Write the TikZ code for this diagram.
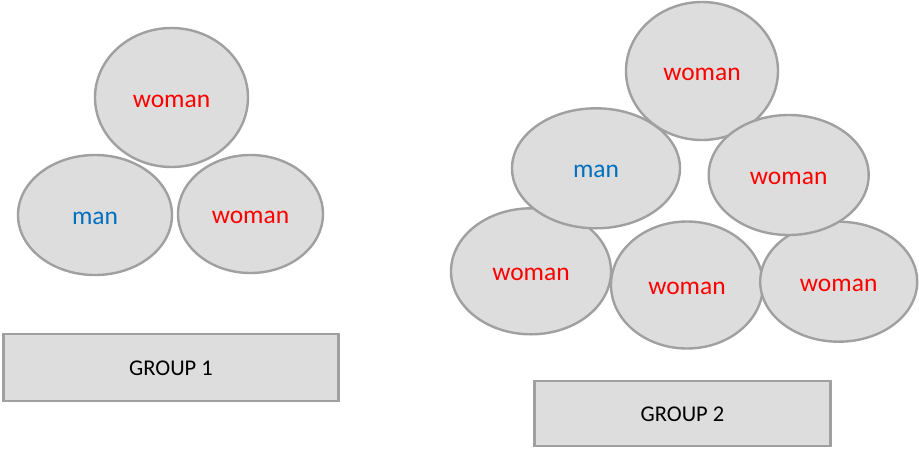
\documentclass[tikz,border=0pt]{standalone}
\usepackage{fontspec}
\setmainfont{Carlito}
\definecolor{fillg}{HTML}{DDDDDD}
\definecolor{lineg}{HTML}{A0A0A0}
\definecolor{manblue}{HTML}{0070C0}
\definecolor{womanred}{HTML}{FF0000}
\newcommand{\lowertext}[1]{\raisebox{-3.5pt}[\height][\depth]{#1}}
\newcommand{\lowergroup}[1]{\raisebox{-1pt}[\height][\depth]{#1}}
\tikzset{
  person/.style={ellipse, draw=lineg, fill=fillg, line width=2.4pt, inner sep=0pt},
  womanp/.style={person, text=womanred, font=\fontsize{25.5}{30}\selectfont},
  manp/.style={person, text=manblue, font=\fontsize{25.5}{30}\selectfont},
  groupbox/.style={draw=lineg, fill=fillg, line width=2.4pt, font=\fontsize{22.5}{27}\selectfont, text=black}
}
\usetikzlibrary{shapes.geometric}
\begin{document}
\begin{tikzpicture}[x=1pt,y=-1pt]
\useasboundingbox (0,0) rectangle (919,448);
% Group 1
\node[womanp, minimum width=153pt, minimum height=139pt] (g1w1) at (171.5,97.5) {\lowertext{woman}};
\node[manp, minimum width=154pt, minimum height=120pt] (g1m) at (95,215) {\lowertext{man}};
\node[womanp, minimum width=145pt, minimum height=118pt] (g1w2) at (250.5,214) {\lowertext{woman}};
\node[groupbox, minimum width=335pt, minimum height=67pt] (g1) at (171,367.5) {\lowergroup{GROUP 1}};
% Group 2
\node[womanp, minimum width=152pt, minimum height=138pt] (g2w1) at (702,71) {\lowertext{woman}};
\node[womanp, minimum width=160pt, minimum height=126pt] (g2w3) at (531,271.3) {\lowertext{woman}};
\node[womanp, minimum width=152pt, minimum height=127pt] (g2w4) at (687,285) {\lowertext{woman}};
\node[womanp, minimum width=157pt, minimum height=120pt] (g2w5) at (838.7,281.7) {\lowertext{woman}};
\node[manp, minimum width=168pt, minimum height=120pt] (g2m) at (596,168.3) {\lowertext{man}};
\node[womanp, minimum width=160pt, minimum height=120pt] (g2w2) at (788.7,175) {\lowertext{woman}};
\node[groupbox, minimum width=296pt, minimum height=65pt] (g2) at (682.5,413.5) {\lowergroup{GROUP 2}};
\end{tikzpicture}
\end{document}
